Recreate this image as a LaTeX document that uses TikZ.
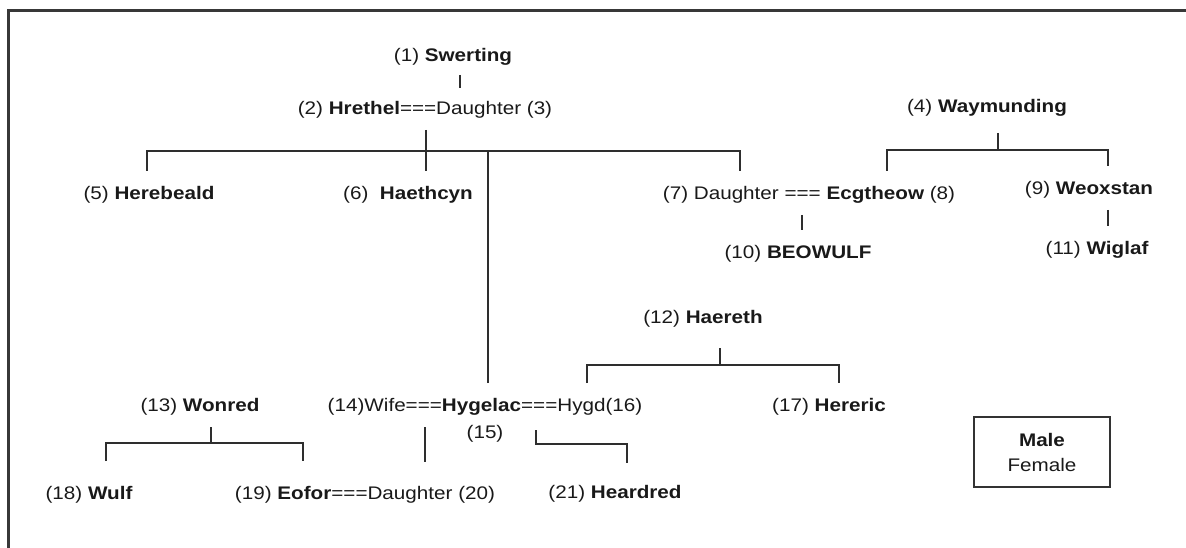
\documentclass[tikz,border=0pt]{standalone}
\usepackage{fontspec}
\setmainfont[FakeStretch=1.135]{Liberation Sans}
\usetikzlibrary{positioning}

\begin{document}
\begin{tikzpicture}[
    x=1pt, y=-1pt,
    font=\fontsize{18.2}{25}\selectfont,
    person/.style = {
        inner sep=0pt, outer ysep=15.5pt,
        text height=13pt, text depth=0pt, text=black!90
    },
    link/.style = {draw=black!82, line width=2.1pt},
    frame/.style = {draw=black!78, line width=3.2pt},
    keybox/.style = {
        rectangle, draw=black!80, line width=2.6pt, text=black!90,
        minimum width=136pt, minimum height=70pt,
        align=center, inner sep=0pt
    }
]
\useasboundingbox (0,0) rectangle (1186,548);

% ---- Frame ----
\draw[frame] (8.5,560) |- (1200,10.7);

% ---- Generation 1 and 2 ----
\node[person] (swert) at (453,55) {(1) \textbf{Swerting}};
\node[person] (hreth) at (425,108) {(2) \textbf{Hrethel}===Daughter (3)};
\node[person] (waym)  at (987,106) {(4) \textbf{Waymunding}};

% ---- Generation 3 ----
\node[person] (hereb) at (149,193)  {(5) \textbf{Herebeald}};
\node[person] (haeth) at (408,193)  {(6)\ \ \textbf{Haethcyn}};
\node[person] (ecgth) at (809,193)  {(7) Daughter === \textbf{Ecgtheow} (8)};
\node[person] (weox)  at (1089,188) {(9) \textbf{Weoxstan}};
\node[person] (beow)  at (798,252)  {(10) \textbf{BEOWULF}};
\node[person] (wigl)  at (1097,248) {(11) \textbf{Wiglaf}};

% ---- Haereth and Wonred ----
\node[person] (haer) at (703,317) {(12) \textbf{Haereth}};
\node[person] (wonr) at (200,405) {(13) \textbf{Wonred}};
\node[person] (hyge) at (485,405) {(14)Wife===\textbf{Hygelac}===Hygd(16)};
\node[person] (n15)  at (485,432) {(15)};
\node[person] (here) at (829,405) {(17) \textbf{Hereric}};

% ---- Last generation ----
\node[person] (wulf)  at (89,493)  {(18) \textbf{Wulf}};
\node[person] (eofor) at (365,493) {(19) \textbf{Eofor}===Daughter (20)};
\node[person] (heard) at (615,492) {(21) \textbf{Heardred}};

% ---- Key ----
\node[keybox] (key) at (1042,452) {\textbf{Male}\\Female};

% ---- Lines of descent ----
\draw[link, shorten <=-2pt, shorten >=-2pt] (swert.south -| 460,0) -- (hreth.north -| 460,0);

% Hrethel's children
\draw[link] (hreth.south -| 426,0) -- (haeth.north -| 426,0);
\draw[link] (hereb.north -| 147,0) -- ++(0,-20) -| (ecgth.north -| 740,0);
\draw[link] (hyge.north -| 488,0) -- ++(0,-232);

% Waymunding
\draw[link, shorten <=5pt] (waym.south -| 998,0) -- ++(0,22);
\draw[link] (ecgth.north -| 887,0) -- ++(0,-21) -| (weox.north -| 1108,0);
\draw[link] (ecgth.south -| 802,0) -- (beow.north -| 802,0);
\draw[link] (weox.south -| 1108,0) -- (wigl.north -| 1108,0);

% Haereth
\draw[link, shorten <=9pt] (haer.south -| 720,0) -- ++(0,26);
\draw[link] (hyge.north -| 587,0) -- ++(0,-18) -| (here.north -| 839,0);

% Wonred
\draw[link] (wonr.south -| 211,0) -- ++(0,16);
\draw[link, shorten <=10pt, shorten >=10pt] (wulf.north -| 106,0)
    -- ++(0,-28) -| (eofor.north -| 303,0);

% Hygelac's children
\draw[link, shorten >=9pt] (hyge.south -| 425,0) -- (eofor.north -| 425,0);
\draw[link, shorten <=3pt, shorten >=7pt] (hyge.south -| 536,0)
    -- ++(0,17) -| (heard.north -| 627,0);

\end{tikzpicture}
\end{document}
